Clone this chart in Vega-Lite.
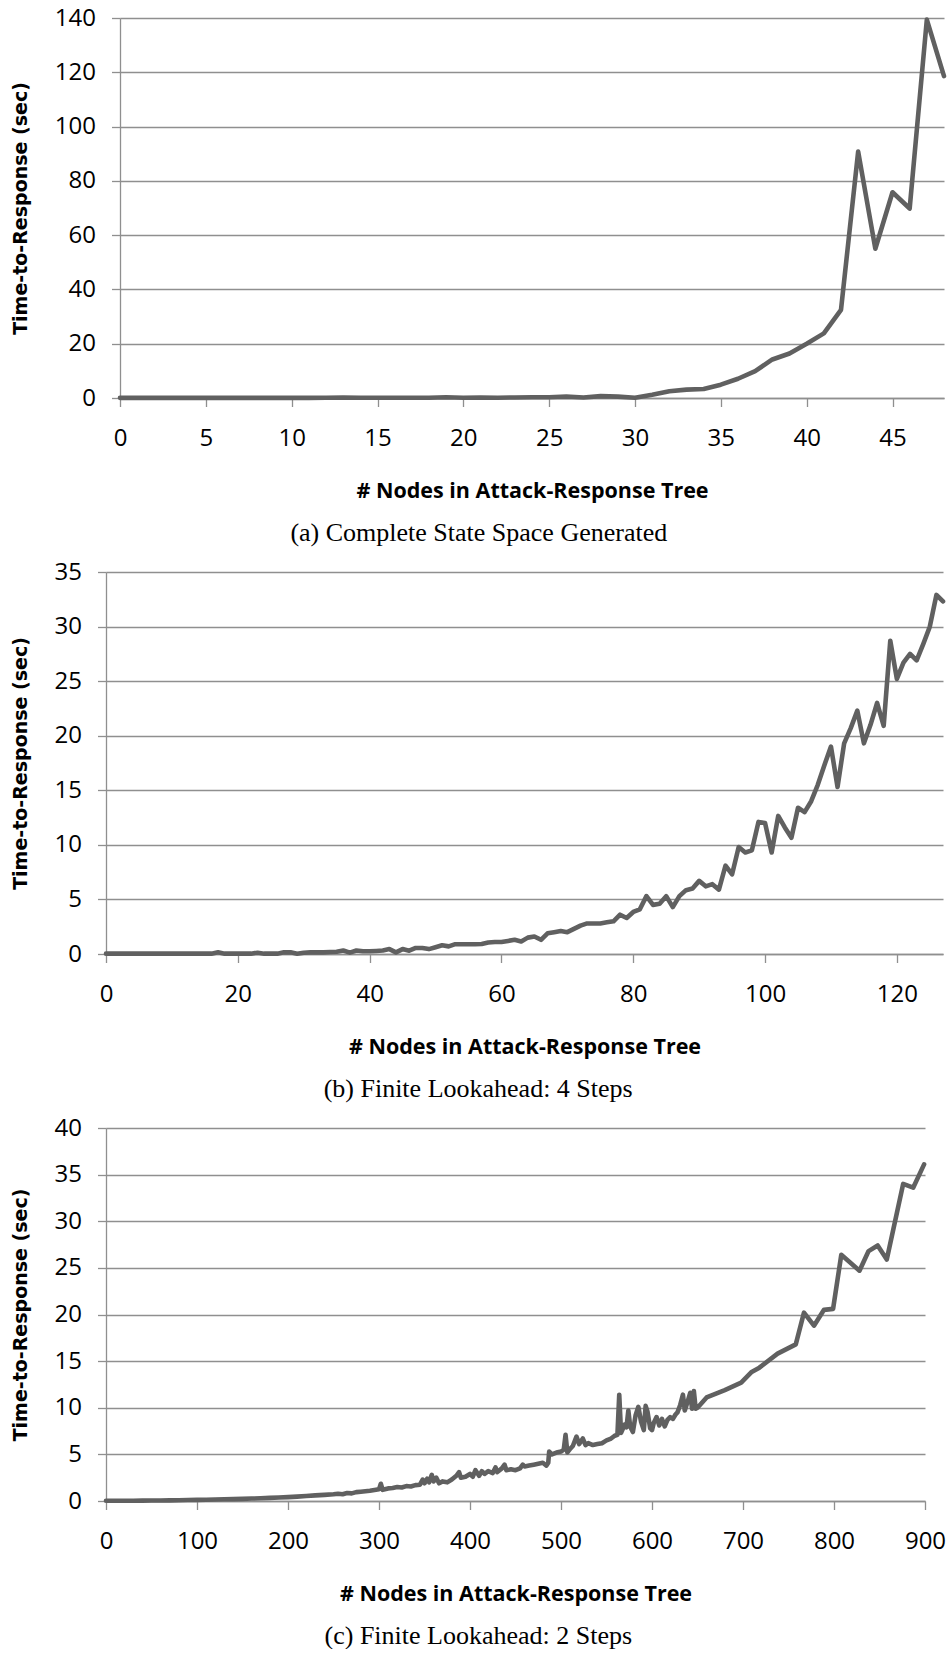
{
  "$schema": "https://vega.github.io/schema/vega-lite/v6.json",
  "background": "white",
  "padding": {"left": 4, "top": 6, "right": 0, "bottom": 0},
  "datasets": {
    "a": [
      {"nodes": 0, "time": 0.05}, {"nodes": 1, "time": 0.05}, {"nodes": 2, "time": 0.05}, {"nodes": 3, "time": 0.05},
      {"nodes": 4, "time": 0.05}, {"nodes": 5, "time": 0.05}, {"nodes": 6, "time": 0.05}, {"nodes": 7, "time": 0.05},
      {"nodes": 8, "time": 0.05}, {"nodes": 9, "time": 0.05}, {"nodes": 10, "time": 0.05}, {"nodes": 11, "time": 0.05},
      {"nodes": 12, "time": 0.08}, {"nodes": 13, "time": 0.2}, {"nodes": 14, "time": 0.1}, {"nodes": 15, "time": 0.08},
      {"nodes": 16, "time": 0.08}, {"nodes": 17, "time": 0.1}, {"nodes": 18, "time": 0.1}, {"nodes": 19, "time": 0.25},
      {"nodes": 20, "time": 0.1}, {"nodes": 21, "time": 0.2}, {"nodes": 22, "time": 0.1}, {"nodes": 23, "time": 0.2},
      {"nodes": 24, "time": 0.25}, {"nodes": 25, "time": 0.3}, {"nodes": 26, "time": 0.5}, {"nodes": 27, "time": 0.2},
      {"nodes": 28, "time": 0.7}, {"nodes": 29, "time": 0.5}, {"nodes": 30, "time": 0.1}, {"nodes": 31, "time": 1.2},
      {"nodes": 32, "time": 2.5}, {"nodes": 33, "time": 3.1}, {"nodes": 34, "time": 3.3}, {"nodes": 35, "time": 4.9},
      {"nodes": 36, "time": 7.1}, {"nodes": 37, "time": 9.9}, {"nodes": 38, "time": 14.2}, {"nodes": 39, "time": 16.4},
      {"nodes": 40, "time": 20.0}, {"nodes": 41, "time": 23.8}, {"nodes": 42, "time": 32.5}, {"nodes": 43, "time": 90.8},
      {"nodes": 44, "time": 55.0}, {"nodes": 45, "time": 75.8}, {"nodes": 46, "time": 69.8}, {"nodes": 47, "time": 139.4},
      {"nodes": 48, "time": 118.6}
    ],
    "b": [
      {"nodes": 0, "time": 0.03}, {"nodes": 1, "time": 0.03}, {"nodes": 2, "time": 0.03}, {"nodes": 3, "time": 0.03},
      {"nodes": 4, "time": 0.03}, {"nodes": 5, "time": 0.03}, {"nodes": 6, "time": 0.03}, {"nodes": 7, "time": 0.03},
      {"nodes": 8, "time": 0.03}, {"nodes": 9, "time": 0.03}, {"nodes": 10, "time": 0.03}, {"nodes": 11, "time": 0.03},
      {"nodes": 12, "time": 0.03}, {"nodes": 13, "time": 0.03}, {"nodes": 14, "time": 0.03}, {"nodes": 15, "time": 0.03},
      {"nodes": 16, "time": 0.03}, {"nodes": 17, "time": 0.15}, {"nodes": 18, "time": 0.03}, {"nodes": 19, "time": 0.03},
      {"nodes": 20, "time": 0.03}, {"nodes": 21, "time": 0.03}, {"nodes": 22, "time": 0.03}, {"nodes": 23, "time": 0.12},
      {"nodes": 24, "time": 0.03}, {"nodes": 25, "time": 0.03}, {"nodes": 26, "time": 0.03}, {"nodes": 27, "time": 0.15},
      {"nodes": 28, "time": 0.15}, {"nodes": 29, "time": 0.02}, {"nodes": 30, "time": 0.12}, {"nodes": 31, "time": 0.15},
      {"nodes": 32, "time": 0.15}, {"nodes": 33, "time": 0.15}, {"nodes": 34, "time": 0.18}, {"nodes": 35, "time": 0.2},
      {"nodes": 36, "time": 0.32}, {"nodes": 37, "time": 0.12}, {"nodes": 38, "time": 0.32}, {"nodes": 39, "time": 0.25},
      {"nodes": 40, "time": 0.25}, {"nodes": 41, "time": 0.28}, {"nodes": 42, "time": 0.32}, {"nodes": 43, "time": 0.45},
      {"nodes": 44, "time": 0.15}, {"nodes": 45, "time": 0.45}, {"nodes": 46, "time": 0.3}, {"nodes": 47, "time": 0.55},
      {"nodes": 48, "time": 0.55}, {"nodes": 49, "time": 0.45}, {"nodes": 50, "time": 0.62}, {"nodes": 51, "time": 0.8},
      {"nodes": 52, "time": 0.7}, {"nodes": 53, "time": 0.9}, {"nodes": 54, "time": 0.9}, {"nodes": 55, "time": 0.9},
      {"nodes": 56, "time": 0.9}, {"nodes": 57, "time": 0.92}, {"nodes": 58, "time": 1.05}, {"nodes": 59, "time": 1.1},
      {"nodes": 60, "time": 1.1}, {"nodes": 61, "time": 1.2}, {"nodes": 62, "time": 1.3}, {"nodes": 63, "time": 1.15},
      {"nodes": 64, "time": 1.5}, {"nodes": 65, "time": 1.6}, {"nodes": 66, "time": 1.3}, {"nodes": 67, "time": 1.9},
      {"nodes": 68, "time": 2.0}, {"nodes": 69, "time": 2.1}, {"nodes": 70, "time": 2.0}, {"nodes": 71, "time": 2.3},
      {"nodes": 72, "time": 2.6}, {"nodes": 73, "time": 2.8}, {"nodes": 74, "time": 2.8}, {"nodes": 75, "time": 2.8},
      {"nodes": 76, "time": 2.9}, {"nodes": 77, "time": 3.0}, {"nodes": 78, "time": 3.6}, {"nodes": 79, "time": 3.3},
      {"nodes": 80, "time": 3.85}, {"nodes": 81, "time": 4.1}, {"nodes": 82, "time": 5.3}, {"nodes": 83, "time": 4.5},
      {"nodes": 84, "time": 4.6}, {"nodes": 85, "time": 5.3}, {"nodes": 86, "time": 4.3}, {"nodes": 87, "time": 5.3},
      {"nodes": 88, "time": 5.85}, {"nodes": 89, "time": 6.0}, {"nodes": 90, "time": 6.7}, {"nodes": 91, "time": 6.2},
      {"nodes": 92, "time": 6.4}, {"nodes": 93, "time": 5.9}, {"nodes": 94, "time": 8.1}, {"nodes": 95, "time": 7.3},
      {"nodes": 96, "time": 9.8}, {"nodes": 97, "time": 9.3}, {"nodes": 98, "time": 9.5}, {"nodes": 99, "time": 12.1},
      {"nodes": 100, "time": 12.0}, {"nodes": 101, "time": 9.3}, {"nodes": 102, "time": 12.65}, {"nodes": 103, "time": 11.6},
      {"nodes": 104, "time": 10.65}, {"nodes": 105, "time": 13.4}, {"nodes": 106, "time": 13.0}, {"nodes": 107, "time": 14.0},
      {"nodes": 108, "time": 15.5}, {"nodes": 109, "time": 17.3}, {"nodes": 110, "time": 19.0}, {"nodes": 111, "time": 15.3},
      {"nodes": 112, "time": 19.3}, {"nodes": 113, "time": 20.7}, {"nodes": 114, "time": 22.3}, {"nodes": 115, "time": 19.3},
      {"nodes": 116, "time": 21.0}, {"nodes": 117, "time": 23.0}, {"nodes": 118, "time": 20.9}, {"nodes": 119, "time": 28.7},
      {"nodes": 120, "time": 25.2}, {"nodes": 121, "time": 26.7}, {"nodes": 122, "time": 27.5}, {"nodes": 123, "time": 26.9},
      {"nodes": 124, "time": 28.4}, {"nodes": 125, "time": 30.0}, {"nodes": 126, "time": 32.9}, {"nodes": 127, "time": 32.3}
    ],
    "c": [
      {"nodes": 0, "time": 0.02}, {"nodes": 10, "time": 0.02}, {"nodes": 20, "time": 0.03}, {"nodes": 30, "time": 0.03},
      {"nodes": 40, "time": 0.04}, {"nodes": 50, "time": 0.05}, {"nodes": 60, "time": 0.06}, {"nodes": 70, "time": 0.07},
      {"nodes": 80, "time": 0.08}, {"nodes": 90, "time": 0.1}, {"nodes": 100, "time": 0.12}, {"nodes": 110, "time": 0.14},
      {"nodes": 120, "time": 0.16}, {"nodes": 130, "time": 0.18}, {"nodes": 140, "time": 0.2}, {"nodes": 150, "time": 0.23},
      {"nodes": 160, "time": 0.26}, {"nodes": 170, "time": 0.29}, {"nodes": 180, "time": 0.33}, {"nodes": 190, "time": 0.38},
      {"nodes": 200, "time": 0.42}, {"nodes": 210, "time": 0.47}, {"nodes": 220, "time": 0.53}, {"nodes": 230, "time": 0.6},
      {"nodes": 240, "time": 0.66}, {"nodes": 250, "time": 0.72}, {"nodes": 255, "time": 0.78}, {"nodes": 260, "time": 0.72},
      {"nodes": 265, "time": 0.85}, {"nodes": 270, "time": 0.82}, {"nodes": 275, "time": 0.95}, {"nodes": 280, "time": 1.0},
      {"nodes": 285, "time": 1.05}, {"nodes": 290, "time": 1.1}, {"nodes": 295, "time": 1.18}, {"nodes": 300, "time": 1.25},
      {"nodes": 302, "time": 1.85}, {"nodes": 304, "time": 1.2}, {"nodes": 310, "time": 1.35}, {"nodes": 315, "time": 1.4},
      {"nodes": 320, "time": 1.5}, {"nodes": 325, "time": 1.45}, {"nodes": 330, "time": 1.6}, {"nodes": 335, "time": 1.55},
      {"nodes": 340, "time": 1.7}, {"nodes": 345, "time": 1.75}, {"nodes": 348, "time": 2.3}, {"nodes": 350, "time": 1.9},
      {"nodes": 353, "time": 2.4}, {"nodes": 355, "time": 2.0}, {"nodes": 358, "time": 2.8}, {"nodes": 360, "time": 2.1},
      {"nodes": 363, "time": 2.5}, {"nodes": 366, "time": 1.9}, {"nodes": 370, "time": 2.1}, {"nodes": 375, "time": 2.0},
      {"nodes": 380, "time": 2.3}, {"nodes": 385, "time": 2.7}, {"nodes": 388, "time": 3.1}, {"nodes": 390, "time": 2.5},
      {"nodes": 395, "time": 2.6}, {"nodes": 400, "time": 2.9}, {"nodes": 403, "time": 2.6}, {"nodes": 406, "time": 3.3},
      {"nodes": 410, "time": 2.7}, {"nodes": 413, "time": 3.2}, {"nodes": 416, "time": 2.9}, {"nodes": 420, "time": 3.2},
      {"nodes": 425, "time": 3.0}, {"nodes": 428, "time": 3.6}, {"nodes": 430, "time": 3.1}, {"nodes": 435, "time": 3.5},
      {"nodes": 438, "time": 3.9}, {"nodes": 440, "time": 3.3}, {"nodes": 445, "time": 3.4}, {"nodes": 450, "time": 3.3},
      {"nodes": 455, "time": 3.5}, {"nodes": 458, "time": 3.9}, {"nodes": 460, "time": 3.7}, {"nodes": 465, "time": 3.8},
      {"nodes": 470, "time": 3.9}, {"nodes": 475, "time": 4.0}, {"nodes": 480, "time": 4.1}, {"nodes": 484, "time": 3.8},
      {"nodes": 486, "time": 4.1}, {"nodes": 487, "time": 5.3}, {"nodes": 490, "time": 5.0}, {"nodes": 495, "time": 5.2},
      {"nodes": 500, "time": 5.3}, {"nodes": 503, "time": 5.5}, {"nodes": 505, "time": 7.1}, {"nodes": 507, "time": 5.2},
      {"nodes": 510, "time": 5.6}, {"nodes": 513, "time": 5.9}, {"nodes": 517, "time": 6.9}, {"nodes": 520, "time": 6.1},
      {"nodes": 524, "time": 6.7}, {"nodes": 527, "time": 6.0}, {"nodes": 530, "time": 6.2}, {"nodes": 535, "time": 6.0},
      {"nodes": 540, "time": 6.1}, {"nodes": 545, "time": 6.2}, {"nodes": 550, "time": 6.5}, {"nodes": 555, "time": 6.7},
      {"nodes": 559, "time": 7.0}, {"nodes": 562, "time": 7.1}, {"nodes": 564, "time": 11.4}, {"nodes": 566, "time": 7.3},
      {"nodes": 570, "time": 8.2}, {"nodes": 572, "time": 7.9}, {"nodes": 574, "time": 9.7}, {"nodes": 576, "time": 8.0},
      {"nodes": 579, "time": 7.4}, {"nodes": 582, "time": 9.2}, {"nodes": 585, "time": 10.1}, {"nodes": 588, "time": 8.5},
      {"nodes": 591, "time": 7.6}, {"nodes": 593, "time": 10.2}, {"nodes": 595, "time": 9.6}, {"nodes": 598, "time": 7.8},
      {"nodes": 600, "time": 7.6}, {"nodes": 602, "time": 8.4}, {"nodes": 605, "time": 9.0}, {"nodes": 608, "time": 8.1},
      {"nodes": 611, "time": 8.8}, {"nodes": 614, "time": 8.0}, {"nodes": 617, "time": 8.7}, {"nodes": 620, "time": 9.0},
      {"nodes": 623, "time": 8.8}, {"nodes": 626, "time": 9.3}, {"nodes": 628, "time": 9.5}, {"nodes": 631, "time": 10.3},
      {"nodes": 634, "time": 11.4}, {"nodes": 636, "time": 9.7}, {"nodes": 639, "time": 10.6}, {"nodes": 642, "time": 11.6},
      {"nodes": 644, "time": 9.9}, {"nodes": 646, "time": 11.8}, {"nodes": 648, "time": 9.9}, {"nodes": 650, "time": 10.0},
      {"nodes": 660, "time": 11.1}, {"nodes": 680, "time": 11.9}, {"nodes": 698, "time": 12.7}, {"nodes": 709, "time": 13.8},
      {"nodes": 718, "time": 14.3}, {"nodes": 738, "time": 15.8}, {"nodes": 758, "time": 16.8}, {"nodes": 767, "time": 20.2},
      {"nodes": 778, "time": 18.8}, {"nodes": 789, "time": 20.5}, {"nodes": 799, "time": 20.6}, {"nodes": 808, "time": 26.4},
      {"nodes": 828, "time": 24.7}, {"nodes": 838, "time": 26.8}, {"nodes": 848, "time": 27.4}, {"nodes": 858, "time": 25.9},
      {"nodes": 876, "time": 34.0}, {"nodes": 887, "time": 33.6}, {"nodes": 899, "time": 36.1}
    ],
    "spacer": [{"v": 0}]
  },
  "vconcat": [
    {"spacing": 0, "hconcat": [
      {"width": 1, "height": 1, "data": {"name": "spacer"}, "mark": {"type": "point", "opacity": 0}, "encoding": {}},
      {
        "width": 824, "height": 380,
        "data": {"name": "a"},
        "title": {"text": "(a) Complete State Space Generated", "orient": "bottom", "anchor": "middle", "frame": "bounds", "font": "Liberation Serif", "fontSize": 26, "fontWeight": "normal", "color": "black", "offset": 18},
        "mark": {"type": "line", "color": "#606060", "strokeWidth": 4.6, "strokeJoin": "round", "strokeCap": "round"},
        "encoding": {
          "x": {"field": "nodes", "type": "quantitative", "scale": {"domain": [0, 48], "nice": false},
                "axis": {"values": [0, 5, 10, 15, 20, 25, 30, 35, 40, 45], "title": "# Nodes in Attack-Response Tree"}},
          "y": {"field": "time", "type": "quantitative", "scale": {"domain": [0, 140], "nice": false},
                "axis": {"values": [0, 20, 40, 60, 80, 100, 120, 140], "title": "Time-to-Response (sec)"}}
        }
      }
    ]},
    {"spacing": 0, "hconcat": [
      {"width": 1, "height": 1, "data": {"name": "spacer"}, "mark": {"type": "point", "opacity": 0}, "encoding": {}},
      {
        "width": 837, "height": 382,
        "data": {"name": "b"},
        "title": {"text": "(b) Finite Lookahead: 4 Steps", "orient": "bottom", "anchor": "middle", "frame": "bounds", "font": "Liberation Serif", "fontSize": 26, "fontWeight": "normal", "color": "black", "offset": 18},
        "mark": {"type": "line", "color": "#606060", "strokeWidth": 4.6, "strokeJoin": "round", "strokeCap": "round"},
        "encoding": {
          "x": {"field": "nodes", "type": "quantitative", "scale": {"domain": [0, 127], "nice": false},
                "axis": {"values": [0, 20, 40, 60, 80, 100, 120], "title": "# Nodes in Attack-Response Tree"}},
          "y": {"field": "time", "type": "quantitative", "scale": {"domain": [0, 35], "nice": false},
                "axis": {"values": [0, 5, 10, 15, 20, 25, 30, 35], "title": "Time-to-Response (sec)"}}
        }
      }
    ]},
    {"spacing": 0, "hconcat": [
      {"width": 1, "height": 1, "data": {"name": "spacer"}, "mark": {"type": "point", "opacity": 0}, "encoding": {}},
      {
        "width": 819, "height": 373,
        "data": {"name": "c"},
        "title": {"text": "(c) Finite Lookahead: 2 Steps", "orient": "bottom", "anchor": "middle", "frame": "bounds", "font": "Liberation Serif", "fontSize": 26, "fontWeight": "normal", "color": "black", "offset": 18},
        "mark": {"type": "line", "color": "#606060", "strokeWidth": 4.6, "strokeJoin": "round", "strokeCap": "round"},
        "encoding": {
          "x": {"field": "nodes", "type": "quantitative", "scale": {"domain": [0, 900], "nice": false},
                "axis": {"values": [0, 100, 200, 300, 400, 500, 600, 700, 800, 900], "title": "# Nodes in Attack-Response Tree"}},
          "y": {"field": "time", "type": "quantitative", "scale": {"domain": [0, 40], "nice": false},
                "axis": {"values": [0, 5, 10, 15, 20, 25, 30, 35, 40], "title": "Time-to-Response (sec)"}}
        }
      }
    ]}
  ],
  "spacing": 14,
  "config": {
    "view": {"stroke": null},
    "axis": {
      "domainColor": "#8f8f8f", "domainWidth": 1.3,
      "tickColor": "#8f8f8f", "tickWidth": 1.3, "tickSize": 8.5,
      "gridColor": "#8f8f8f", "gridWidth": 1.3,
      "labelFont": "Open Sans", "labelFontSize": 24, "labelColor": "black",
      "labelFlush": false, "labelOverlap": false,
      "titleColor": "black"
    },
    "axisX": {"grid": false, "labelPadding": 20, "titleFont": "Open Sans", "titleFontSize": 21.5, "titleFontWeight": "bold", "titlePadding": 30},
    "axisY": {"grid": true, "labelPadding": 16, "titleFont": "DejaVu Sans", "titleFontSize": 19, "titleFontWeight": "bold", "titlePadding": 24}
  }
}
